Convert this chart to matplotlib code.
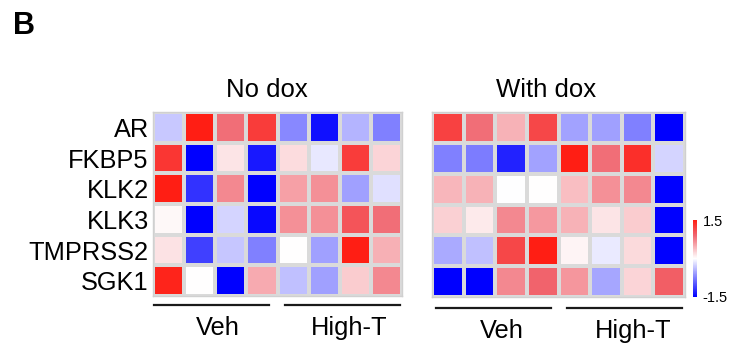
import numpy as np
import matplotlib
matplotlib.use("Agg")
import matplotlib.pyplot as plt
from matplotlib.colors import LinearSegmentedColormap
from matplotlib.lines import Line2D

plt.rcParams['font.family'] = ['Liberation Sans', 'DejaVu Sans']

genes = ["AR", "FKBP5", "KLK2", "KLK3", "TMPRSS2", "SGK1"]
panel_titles = ["No dox", "With dox"]
group_labels = ["Veh", "High-T"]
panel_label = "B"
cbar_ticks = [-1.5, 1.5]

no_dox = np.array([
    [-0.32, 1.50, 0.85, 1.25, -0.70, -1.40, -0.44, -0.75],
    [1.30, -1.50, 0.16, -1.35, 0.20, -0.13, 1.25, 0.25],
    [1.50, -1.20, 0.70, -1.50, 0.56, 0.65, -0.56, -0.18],
    [0.04, -1.50, -0.25, -1.45, 0.65, 0.65, 1.05, 0.85],
    [0.17, -1.12, -0.33, -0.75, 0.00, -0.56, 1.50, 0.46],
    [1.45, 0.00, -1.50, 0.50, -0.37, -0.56, 0.30, 0.70],
])

with_dox = np.array([
    [1.20, 0.85, 0.45, 1.15, -0.55, -0.56, -0.75, -1.50],
    [-0.75, -0.77, -1.30, -0.55, 1.50, 0.85, 1.35, -0.25],
    [0.43, 0.45, -0.01, 0.01, 0.38, 0.65, 0.70, -1.50],
    [0.27, 0.12, 0.70, 0.60, 0.45, 0.16, 0.30, -1.50],
    [-0.50, -0.37, 1.15, 1.50, 0.07, -0.12, 0.22, -1.50],
    [-1.50, -1.50, 0.70, 0.92, 0.62, -0.52, 0.25, 0.97],
])

W, H = 732, 345
def fx(x): return x / W
def fy(y): return 1 - y / H
def rect(x0, x1, y0, y1):
    return [fx(x0), fy(y1), (x1 - x0) / W, (y1 - y0) / H]

cmap = LinearSegmentedColormap.from_list(
    "bwr_custom",
    [(0.0, "#0000FF"), (0.5, "#FFFFFF"), (0.8, "#F06670"), (1.0, "#FF1E14")])

fig = plt.figure(figsize=(W / 100, H / 100), dpi=100)
fig.patch.set_facecolor("white")

axes_px = [(153, 402, 112, 296), (432, 685, 112, 297)]
datas = [no_dox, with_dox]
title_x = [267, 546.5]
mesh = None
for i, (pos, data) in enumerate(zip(axes_px, datas)):
    ax = fig.add_axes(rect(*pos))
    mesh = ax.pcolormesh(data, cmap=cmap, vmin=-1.5, vmax=1.5,
                         edgecolors="#dadada", linewidth=1.5)
    ax.set_xlim(0, data.shape[1])
    ax.set_ylim(data.shape[0], 0)
    ax.set_xticks([])
    for s in ax.spines.values():
        s.set_color("#d0d0d0")
        s.set_linewidth(1.0)
    if i == 0:
        ax.set_yticks(np.arange(len(genes)) + 0.5)
        ax.set_yticklabels(genes, fontsize=18.3)
        ax.tick_params(axis="y", length=0, pad=3)
    else:
        ax.set_yticks([])
    fig.text(fx(title_x[i]), fy(97), panel_titles[i], fontsize=18.5,
             ha="center", va="baseline")

# colorbar
cax = fig.add_axes(rect(693, 697, 220, 297))
cb = fig.colorbar(mesh, cax=cax, ticks=cbar_ticks)
cb.outline.set_visible(False)
cb.ax.set_yticklabels(["-1.5", "1.5"])
cb.ax.tick_params(length=0, pad=4, labelsize=10.5)

# group lines and labels
line_specs = [
    (153.6, 268.6, 305, 218, 335),
    (284.6, 399.6, 305, 349, 335),
    (435.7, 550.7, 308, 501.6, 338),
    (566.8, 681.8, 308, 633, 338),
]
for k, (x0, x1, ly, tx, ty) in enumerate(line_specs):
    fig.add_artist(Line2D([fx(x0), fx(x1)], [fy(ly), fy(ly)],
                          transform=fig.transFigure, color="#1a1a1a", lw=1.6))
    fig.text(fx(tx), fy(ty), group_labels[k % 2], fontsize=18.3,
             ha="center", va="baseline")

fig.text(fx(13), fy(34), panel_label, fontsize=22, fontweight="bold",
         ha="left", va="baseline")

fig.savefig("out.png", dpi=100, facecolor="white")
